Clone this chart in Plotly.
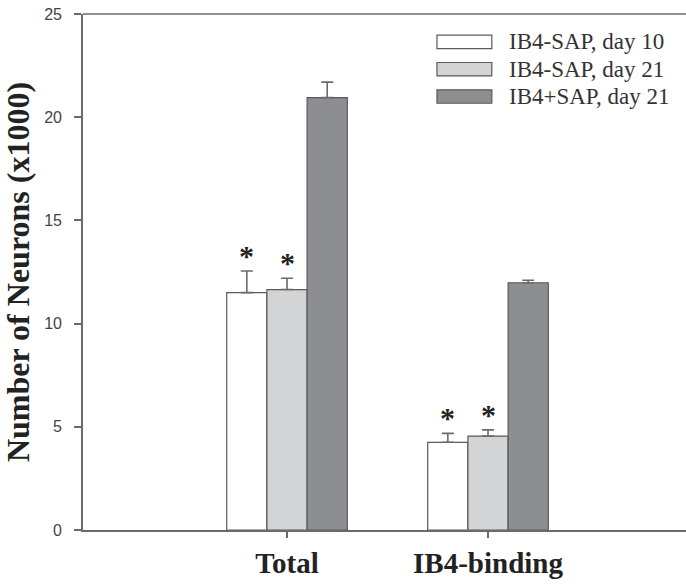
import plotly.graph_objects as go

# Neuron counts (x1000) per region and treatment group
categories = ["Total", "IB4-binding"]
series_names = ["IB4-SAP, day 10", "IB4-SAP, day 21", "IB4+SAP, day 21"]
means = [
    [11.5, 4.25],
    [11.65, 4.55],
    [20.95, 11.98],
]
errors = [
    [1.05, 0.43],
    [0.55, 0.3],
    [0.75, 0.12],
]
significant = [
    [True, True],
    [True, True],
    [False, False],
]
fills = ["#ffffff", "#d3d4d6", "#8d8e92"]
y_ticks = [0, 5, 10, 15, 20, 25]

serif = "Liberation Serif, Times New Roman, serif"
sans = "Liberation Sans, Arial, sans-serif"
axis_grey = "#6a6a6a"
outline = "#5a5a5a"

fig = go.Figure()
x_idx = list(range(len(categories)))
for name, vals, errs, fill in zip(series_names, means, errors, fills):
    fig.add_trace(go.Bar(
        x=x_idx, y=vals, name=name,
        marker=dict(color=fill, line=dict(color=outline, width=1.2)),
        error_y=dict(type="data", symmetric=False, array=errs,
                     arrayminus=[0] * len(errs), color=axis_grey,
                     thickness=1.6, width=6),
        showlegend=False,
    ))

# significance asterisks above the error caps
n = len(series_names)
group_w = 0.6
bar_w = group_w / n
for si in range(n):
    for ci in range(len(categories)):
        if significant[si][ci]:
            xpos = ci - group_w / 2 + bar_w * (si + 0.5)
            fig.add_annotation(
                x=xpos, y=means[si][ci] + errors[si][ci],
                text="<b>*</b>", showarrow=False, yanchor="bottom",
                yshift=-3, font=dict(family=serif, size=30, color="#222"),
            )

# legend drawn as swatches with labels
leg_x0, leg_x1 = 0.587, 0.678
row_y = [0.946, 0.893, 0.840]
for name, fill, ry in zip(series_names, fills, row_y):
    fig.add_shape(type="rect", xref="paper", yref="paper",
                  x0=leg_x0, x1=leg_x1, y0=ry - 0.013, y1=ry + 0.013,
                  fillcolor=fill, line=dict(color=outline, width=1.2))
    fig.add_annotation(xref="paper", yref="paper", x=leg_x1 + 0.025, y=ry,
                       text=name, showarrow=False, xanchor="left",
                       yanchor="middle",
                       font=dict(family=serif, size=23, color="#333"))

# top frame line
fig.add_shape(type="line", xref="paper", yref="paper", x0=0, x1=1, y0=1, y1=1,
              line=dict(color=axis_grey, width=1.6))

fig.update_layout(
    width=686, height=585,
    margin=dict(l=83, r=0, t=14, b=55),
    paper_bgcolor="white", plot_bgcolor="white",
    barmode="group", bargap=0.4, bargroupgap=0,
    xaxis=dict(
        range=[-1.015, 1.985], tickvals=x_idx,
        ticktext=[f"<b>{c}</b>" for c in categories],
        showline=True, linecolor=axis_grey, linewidth=1.6,
        ticks="outside", ticklen=6, tickcolor=axis_grey, tickwidth=1.5,
        showgrid=False, zeroline=False,
        tickfont=dict(family=serif, size=29, color="#222"),
    ),
    yaxis=dict(
        range=[0, 25], tickvals=y_ticks,
        showline=True, linecolor=axis_grey, linewidth=1.6,
        ticks="outside", ticklen=7, tickcolor=axis_grey, tickwidth=1.5,
        ticklabelstandoff=9,
        showgrid=False, zeroline=False,
        tickfont=dict(family=sans, size=16, color="#444"),
        title=dict(text="<b>Number of Neurons (x1000)</b>",
                   font=dict(family=serif, size=32, color="#222"),
                   standoff=8),
    ),
)

fig.write_html("out.html")
